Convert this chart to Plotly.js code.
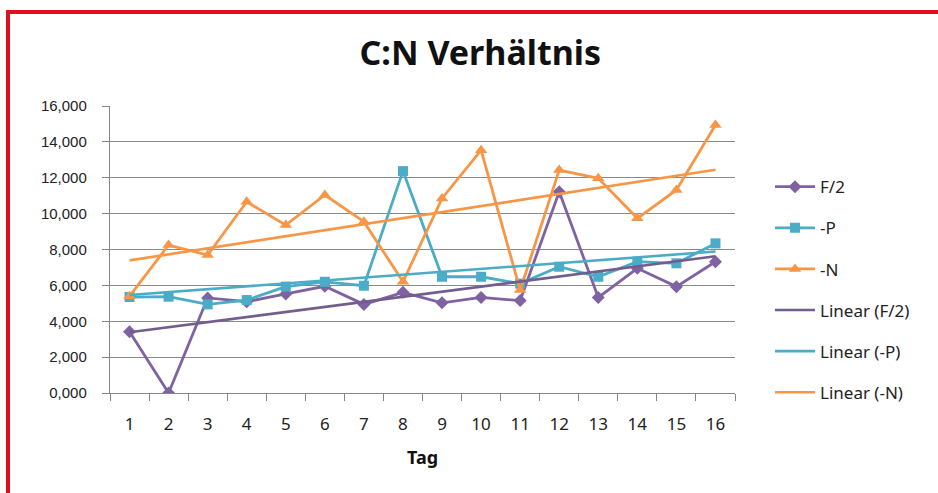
<!DOCTYPE html>
<html>
<head>
<meta charset="utf-8">
<script src="https://cdn.plot.ly/plotly-3.0.1.min.js"></script>
<style>
  html, body { margin: 0; padding: 0; background: #ffffff; }
  #wrap { position: relative; width: 938px; height: 493px; overflow: hidden; }
  #chart { width: 938px; height: 493px; }
  #frame { position: absolute; left: 6px; top: 10px; width: 940px; height: 490px;
           border-left: 4px solid #e0101e; border-top: 4px solid #e0101e; pointer-events: none; box-sizing: border-box; }
</style>
</head>
<body>
<div id="wrap">
  <div id="chart"></div>
  <div id="frame"></div>
</div>
<script>
const days = ['1','2','3','4','5','6','7','8','9','10','11','12','13','14','15','16'];
const f2 = [3.42, 0.0, 5.3, 5.09, 5.52, 5.95, 4.94, 5.61, 5.03, 5.33, 5.15, 11.22, 5.33, 6.95, 5.93, 7.32];
const minusP = [5.35, 5.37, 4.94, 5.18, 5.93, 6.2, 5.98, 12.37, 6.48, 6.48, 6.1, 7.04, 6.48, 7.32, 7.23, 8.34];
const minusN = [5.4, 8.25, 7.69, 10.66, 9.36, 11.04, 9.55, 6.2, 10.85, 13.54, 5.74, 12.43, 11.97, 9.74, 11.32, 14.94];
const seriesNames = ['F/2', '-P', '-N'];
const trendNames = ['Linear (F/2)', 'Linear (-P)', 'Linear (-N)'];
const yTicks = [0, 2, 4, 6, 8, 10, 12, 14, 16];

const colors = ['#7f62a1', '#4aacc6', '#f79646'];
const trendColors = ['#725d8c', '#4aacc6', '#f79646'];
const symbols = ['diamond', 'square', 'triangle-up'];
const sizes = [10, 10, 11];

function linfit(ys) {
  const n = ys.length;
  const xs = ys.map((_, i) => i + 1);
  const mx = xs.reduce((a, b) => a + b, 0) / n;
  const my = ys.reduce((a, b) => a + b, 0) / n;
  let sxy = 0, sxx = 0;
  for (let i = 0; i < n; i++) { sxy += (xs[i] - mx) * (ys[i] - my); sxx += (xs[i] - mx) ** 2; }
  const b = sxy / sxx, a = my - b * mx;
  return xs.map(x => a + b * x);
}

const data = [f2, minusP, minusN];
const traces = [];
data.forEach((ys, i) => {
  traces.push({
    x: days, y: ys, name: seriesNames[i], type: 'scatter', mode: 'lines+markers',
    legendgroup: 'g' + i,
    line: { color: colors[i], width: 2.8 },
    marker: { symbol: symbols[i], size: sizes[i], color: colors[i] }
  });
});
data.forEach((ys, i) => {
  traces.push({
    x: days, y: linfit(ys), name: trendNames[i], type: 'scatter', mode: 'lines',
    legendgroup: 't' + i,
    line: { color: trendColors[i], width: 2.6 }
  });
});

const layout = {
  width: 938, height: 493,
  margin: { l: 110, r: 203, t: 106, b: 100 },
  paper_bgcolor: '#ffffff', plot_bgcolor: '#ffffff',
  separators: ',.',
  font: { family: '"Noto Sans", sans-serif', color: '#222222' },
  title: {
    text: '<b>C:N Verhältnis</b>',
    font: { size: 34, family: '"Noto Sans", sans-serif', color: '#111111' },
    xref: 'container', x: 0.512, xanchor: 'center',
    yref: 'container', y: 0.893, yanchor: 'middle'
  },
  xaxis: {
    type: 'category',
    range: [-0.5, 15.5],
    tickson: 'boundaries',
    ticks: 'outside', ticklen: 7, tickcolor: '#868686',
    showline: true, linecolor: '#868686', linewidth: 1.2,
    showgrid: false,
    tickfont: { size: 17, family: '"Noto Sans", sans-serif', color: '#222222' },
    ticklabelstandoff: 15,
    title: { text: '<b>Tag</b>', font: { size: 18, family: '"Noto Sans", sans-serif', color: '#111111' }, standoff: 17 }
  },
  yaxis: {
    range: [0, 16],
    tickvals: yTicks,
    tickformat: '.3f',
    ticks: 'outside', ticklen: 7, tickcolor: '#868686',
    showline: true, linecolor: '#868686', linewidth: 1.2,
    showgrid: true, gridcolor: '#8a8a8a', gridwidth: 1.2,
    zeroline: false,
    tickfont: { size: 15, family: '"Liberation Sans", Arial, sans-serif', color: '#222222' },
    ticklabelstandoff: 12
  },
  showlegend: true,
  legend: {
    x: 1.056, xanchor: 'left', y: 0.78, yanchor: 'top',
    font: { size: 17, family: '"Noto Sans", sans-serif', color: '#222222' },
    tracegroupgap: 16,
    itemwidth: 40,
    bgcolor: 'rgba(0,0,0,0)'
  }
};

Plotly.newPlot('chart', traces, layout, { displayModeBar: false, staticPlot: true });
</script>
</body>
</html>
